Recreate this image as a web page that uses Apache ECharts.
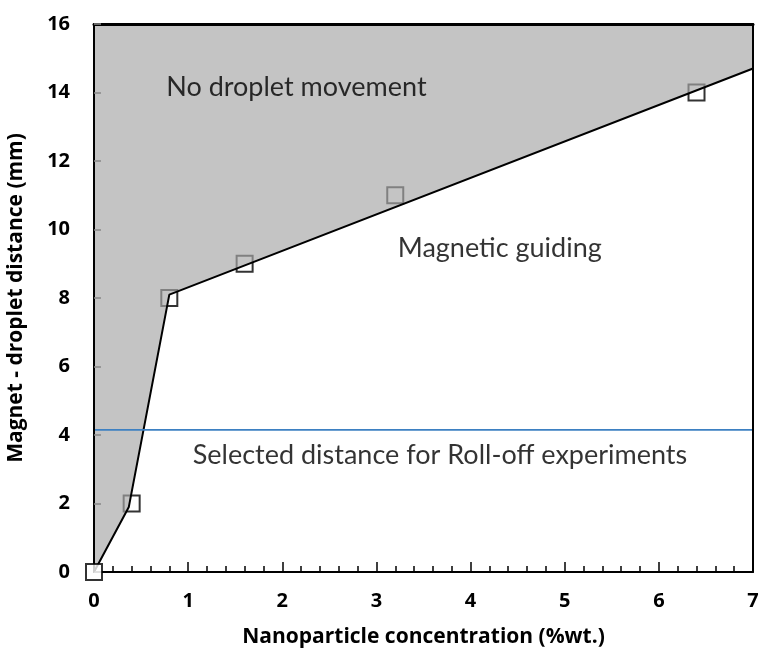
<!DOCTYPE html>
<html>
<head>
<meta charset="utf-8">
<script src="https://cdn.jsdelivr.net/npm/echarts@6/dist/echarts.min.js"></script>
<style>
  html, body { margin: 0; padding: 0; background: #fff; }
  #chart { width: 761px; height: 653px; }
</style>
</head>
<body>
<div id="chart"></div>
<script>
// measured points (open squares)
const concX = [0, 0.4, 0.8, 1.6, 3.2, 6.4]
const distY = [0, 2, 8, 9, 11, 14]
// boundary line between the two regions
const boundaryX = [0, 0.37, 0.8, 7, 7]
const boundaryY = [0, 1.9, 8.1, 14.7, 16]
// chosen distance for roll-off runs
const selectedDist = 4.15
const xTicks = [0, 1, 2, 3, 4, 5, 6, 7]
const yTicks = [0, 2, 4, 6, 8, 10, 12, 14, 16]

const FONT = 'Lato'
const BOLD_FONT = 'Open Sans'

const chart = echarts.init(document.getElementById('chart'), null, { renderer: 'canvas' })

const zip = (xs, ys) => xs.map((x, i) => [x, ys[i]])

// text notes placed in data coordinates
const notes = [
  { value: [2.15, 14.16], text: 'No droplet movement' },
  { value: [4.31, 9.46], text: 'Magnetic guiding' },
  { value: [3.675, 3.42], text: 'Selected distance for Roll-off experiments' },
]

const xMin = xTicks[0], xMax = xTicks[xTicks.length - 1]
const yMin = yTicks[0], yMax = yTicks[yTicks.length - 1]

// plain frame axes for top / right edges
const frameAxis = (pos, min, max, w) => ({
  type: 'value', position: pos, min, max, z: 10,
  axisLine: { show: true, onZero: false, lineStyle: { color: '#000', width: w } },
  axisTick: { show: false }, axisLabel: { show: false }, splitLine: { show: false },
})

const points = zip(concX, distY)
const markerStyle = {
  type: 'scatter',
  clip: false,
  symbol: 'rect',
  symbolSize: 16,
  itemStyle: { color: '#fff', borderColor: '#000', borderWidth: 2 },
}

const option = {
  animation: false,
  backgroundColor: '#fff',
  grid: { left: 94, right: 8, top: 24, bottom: 81, containLabel: false, outerBoundsMode: 'none' },
  xAxis: [
    {
      type: 'value',
      min: xMin, max: xMax,
      interval: 1,
      z: 10,
      name: 'Nanoparticle concentration (%wt.)',
      nameLocation: 'middle',
      nameGap: 55,
      nameTextStyle: { color: '#000', fontFamily: BOLD_FONT, fontWeight: 'bold', fontSize: 21 },
      splitLine: { show: false },
      axisLine: { show: true, onZero: false, lineStyle: { color: '#000', width: 2 } },
      axisTick: { show: true, inside: true, length: 10, lineStyle: { color: '#000', width: 1.5 } },
      minorTick: { show: true, splitNumber: 5, length: 6, lineStyle: { color: '#000', width: 1.5 } },
      axisLabel: { margin: 19, color: '#000', fontFamily: BOLD_FONT, fontWeight: 'bold', fontSize: 20 },
    },
    frameAxis('top', xMin, xMax, 3),
  ],
  yAxis: [
    {
      type: 'value',
      min: yMin, max: yMax,
      interval: 2,
      z: 10,
      name: 'Magnet - droplet distance (mm)',
      nameLocation: 'middle',
      nameGap: 67,
      nameTextStyle: { color: '#000', fontFamily: BOLD_FONT, fontWeight: 'bold', fontSize: 21 },
      splitLine: { show: false },
      axisLine: { show: true, onZero: false, lineStyle: { color: '#000', width: 2 } },
      axisTick: { show: true, inside: true, length: 7, lineStyle: { color: '#888', width: 1.5 } },
      axisLabel: { margin: 24, color: '#000', fontFamily: BOLD_FONT, fontWeight: 'bold', fontSize: 20 },
    },
    frameAxis('right', yMin, yMax, 2),
  ],
  series: [
    Object.assign({ name: 'points', z: 1, data: points.slice(1) }, markerStyle),
    // the point sitting on the frame corner is drawn over the axes
    Object.assign({ name: 'origin point', z: 11, data: points.slice(0, 1) }, markerStyle),
    {
      name: 'no-movement area',
      type: 'line',
      z: 2,
      symbol: 'none',
      lineStyle: { width: 0, opacity: 0 },
      areaStyle: { origin: 'end', color: 'rgba(167,167,167,0.67)', opacity: 1 },
      data: zip(boundaryX, boundaryY),
    },
    {
      name: 'boundary',
      type: 'line',
      z: 3,
      symbol: 'none',
      clip: false,
      lineStyle: { color: '#000', width: 2 },
      data: zip(boundaryX, boundaryY),
    },
    {
      name: 'selected',
      type: 'line',
      z: 3,
      symbol: 'none',
      lineStyle: { color: '#3d80c2', width: 1.6 },
      data: [[xMin, selectedDist], [xMax, selectedDist]],
    },
    {
      name: 'notes',
      type: 'scatter',
      z: 4,
      symbolSize: 1,
      itemStyle: { color: 'transparent' },
      label: {
        show: true,
        position: 'inside',
        color: '#000',
        textBorderWidth: 0,
        fontFamily: FONT,
        fontSize: 27,
        formatter: p => p.data.text,
      },
      data: notes,
    },
  ],
}

chart.setOption(option)
</script>
</body>
</html>
